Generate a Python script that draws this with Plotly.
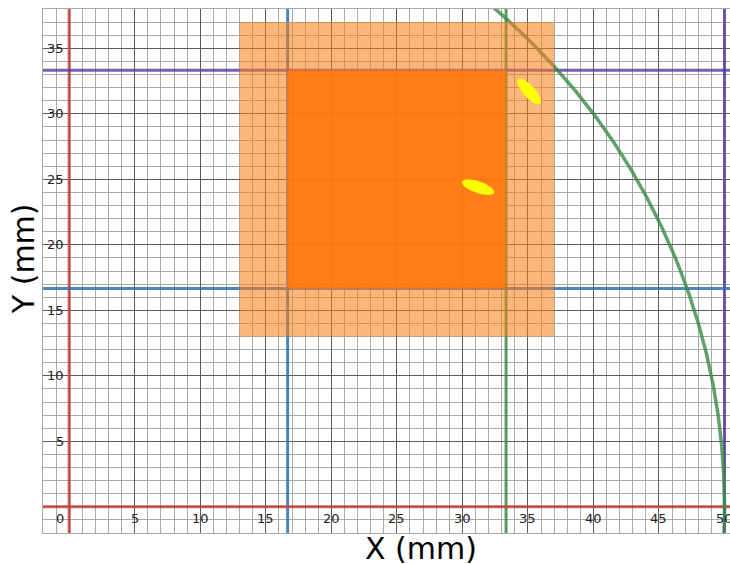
import numpy as np
import plotly.graph_objects as go

# ---- data ----
x_range = [-2, 50.42]
y_range = [-2, 38]
x_tick_vals = [5, 10, 15, 20, 25, 30, 35, 40, 45, 50]
y_tick_vals = [5, 10, 15, 20, 25, 30, 35]
x_tick_labels = [str(v) for v in x_tick_vals]
y_tick_labels = [str(v) for v in y_tick_vals]

# reference lines: (value, colour)
v_lines = [(0, "#c74440"), (50 / 3, "#2d70b3"), (100 / 3, "#388c46"), (50, "#6042a6")]
h_lines = [(0, "#c74440"), (50 / 3, "#2d70b3"), (100 / 3, "#6042a6")]
arc_radius = 50

outer_square = [13, 37, 13, 37]            # x0, x1, y0, y1
inner_square = [50 / 3, 100 / 3, 50 / 3, 100 / 3]

# ellipses: centre x, centre y, semi-major, semi-minor, angle (deg)
ellipse_cx = [31.2, 35.1]
ellipse_cy = [24.4, 31.7]
ellipse_a = [1.30, 1.26]
ellipse_b = [0.45, 0.46]
ellipse_ang = [-19, -48.5]

fig = go.Figure()

shapes = []
for val, col in v_lines:
    shapes.append(dict(type="line", xref="x", yref="y", x0=val, x1=val,
                       y0=y_range[0], y1=y_range[1], layer="between",
                       line=dict(color=col, width=3), opacity=0.85))
for val, col in h_lines:
    shapes.append(dict(type="line", xref="x", yref="y", y0=val, y1=val,
                       x0=x_range[0], x1=x_range[1], layer="between",
                       line=dict(color=col, width=3), opacity=0.85))
shapes.append(dict(type="circle", xref="x", yref="y",
                   x0=-arc_radius, x1=arc_radius, y0=-arc_radius, y1=arc_radius,
                   layer="between", line=dict(color="#388c46", width=3.5), opacity=0.8))


def rect_trace(r, color):
    x0, x1, y0, y1 = r
    return go.Scatter(x=[x0, x1, x1, x0, x0], y=[y0, y0, y1, y1, y0],
                      mode="lines", fill="toself", fillcolor=color,
                      line=dict(width=0), hoverinfo="skip", showlegend=False)


fig.add_trace(rect_trace(outer_square, "rgba(250,126,25,0.57)"))
fig.add_trace(rect_trace(inner_square, "rgba(255,118,10,0.88)"))

t = np.linspace(0, 2 * np.pi, 73)
for cx, cy, a, b, ang in zip(ellipse_cx, ellipse_cy, ellipse_a, ellipse_b, ellipse_ang):
    th = np.deg2rad(ang)
    ex = cx + a * np.cos(t) * np.cos(th) - b * np.sin(t) * np.sin(th)
    ey = cy + a * np.cos(t) * np.sin(th) + b * np.sin(t) * np.cos(th)
    fig.add_trace(go.Scatter(x=ex, y=ey, mode="lines", fill="toself",
                             fillcolor="#ffff00", line=dict(width=0, color="#ffff00"),
                             hoverinfo="skip", showlegend=False))

tick_font = dict(family="DejaVu Sans", size=13, color="#222222")
annotations = []
for v, lab in zip(x_tick_vals, x_tick_labels):
    annotations.append(dict(x=v, y=-0.92, xref="x", yref="y", text=lab, showarrow=False,
                            xanchor="center", yanchor="middle", font=tick_font))
for v, lab in zip(y_tick_vals, y_tick_labels):
    annotations.append(dict(x=-0.27, y=v, xref="x", yref="y", text=lab, showarrow=False,
                            xanchor="right", yanchor="middle", font=tick_font))
annotations.append(dict(x=-0.27, y=-0.92, xref="x", yref="y", text="0", showarrow=False,
                        xanchor="right", yanchor="middle", font=tick_font))

title_font = dict(family="DejaVu Sans", size=30, color="#000000")
annotations.append(dict(x=0.550, y=-0.030, xref="paper", yref="paper", text="X (mm)",
                        showarrow=False, xanchor="center", yanchor="middle", font=title_font))
annotations.append(dict(x=-0.028, y=0.524, xref="paper", yref="paper", text="Y (mm)",
                        textangle=-90, showarrow=False, xanchor="center", yanchor="middle",
                        font=title_font))

axis_common = dict(showticklabels=False, ticks="", zeroline=False,
                   gridcolor="#5a5a5a", gridwidth=1, dtick=5, tick0=0,
                   minor=dict(dtick=1, tick0=0, showgrid=True, gridcolor="#aaaaaa", gridwidth=1),
                   showline=True, linecolor="#aaaaaa", linewidth=1, fixedrange=True)

fig.update_layout(
    width=730, height=564,
    margin=dict(l=43, r=0, t=9, b=31),
    paper_bgcolor="white", plot_bgcolor="white",
    xaxis=dict(range=x_range, mirror=True, **axis_common),
    yaxis=dict(range=y_range, **axis_common),
    shapes=shapes, annotations=annotations, showlegend=False,
)

fig.write_html("out.html", config={"displayModeBar": False})
